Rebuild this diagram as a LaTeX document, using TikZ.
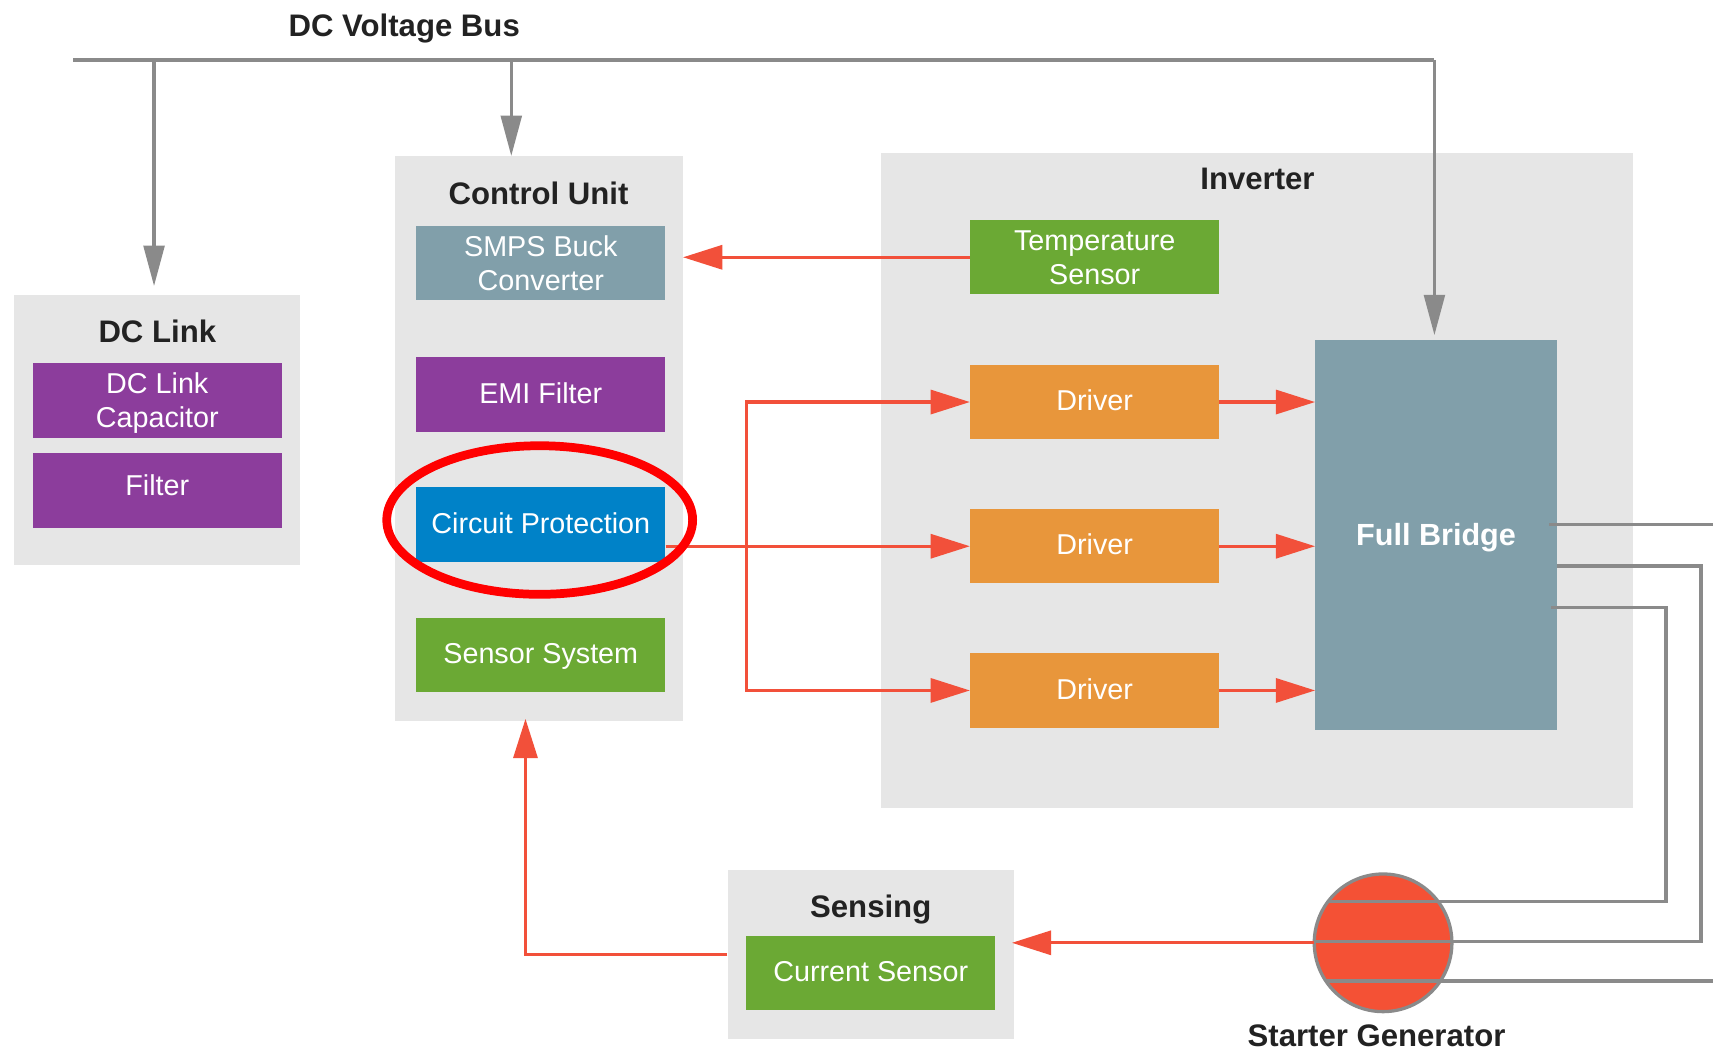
\documentclass[tikz,border=0pt]{standalone}
\usepackage{fontspec}
\setmainfont{Liberation Sans}
\usetikzlibrary{arrows.meta,calc}

\definecolor{grpbg}{HTML}{E6E6E6}
\definecolor{purp}{HTML}{8C3D9C}
\definecolor{slate}{HTML}{819FAA}
\definecolor{cpblue}{HTML}{0082C8}
\definecolor{leaf}{HTML}{6BA934}
\definecolor{amber}{HTML}{E8963B}
\definecolor{signal}{HTML}{F2503A}
\definecolor{wiregray}{HTML}{8A8A8A}
\definecolor{ink}{HTML}{222222}
\definecolor{rotor}{HTML}{F45135}

\begin{document}
\begin{tikzpicture}[x=1pt,y=-1pt,
  grp/.style={fill=grpbg, draw=none, inner sep=0pt},
  title/.style={font=\fontsize{28.5}{32}\selectfont\bfseries, text=ink, inner sep=0pt,
                text height=20.4pt, text depth=0pt},
  blk/.style={minimum width=228pt, minimum height=68pt, inner sep=0pt, text=white,
              align=center, font=\fontsize{26.3}{31}\selectfont, text height=18.8pt, text depth=3pt},
  twoline/.style={text height=49.8pt, text depth=0pt},
  sig/.style={draw=signal, line width=3pt},
  sigarrow/.style={sig, -{Triangle[length=36pt,width=22pt]}},
  wire/.style={draw=wiregray, line width=3pt},
  busarrow/.style={wire, -{Triangle[length=37pt,width=19pt]}},
]
\useasboundingbox (0,0) rectangle (1568,963);

% ---- group panels ----
\node[grp, minimum width=262pt, minimum height=247pt] (dclink) at (144,393.5) {};
\node[grp, minimum width=263pt, minimum height=517pt] (cu)     at (493.5,401.5) {};
\node[grp, minimum width=689pt, minimum height=600pt] (inv)    at (1150.5,440) {};
\node[grp, minimum width=262pt, minimum height=155pt] (sens)   at (797,873.5) {};

% ---- titles ----
\node[title] (tbus)  at (370,23)   {DC Voltage Bus};
\node[title] (tdcl)  at (144,303)  {DC Link};
\node[title] (tcu)   at (493,177)  {Control Unit};
\node[title] (tinv)  at (1151,163) {Inverter};
\node[title] (tsens) at (797,830)  {Sensing};
\node[title] (tsg)   at (1260,948) {Starter Generator};

% ---- blocks ----
\node[blk, twoline, fill=purp] (dccap) at (144,366.5) {DC Link\\Capacitor};
\node[blk, fill=purp, text depth=9pt] (filt) at (144,449) {Filter};
\node[blk, twoline, fill=slate] (smps) at (495,241) {SMPS Buck\\Converter};
\node[blk, fill=purp]   (emi)    at (495,361)   {EMI Filter};
\node[blk, fill=cpblue] (cp)     at (495,480)   {Circuit Protection};
\node[blk, fill=leaf]   (sensys) at (495,599.5) {Sensor System};
\node[blk, twoline, fill=leaf] (temp) at (1002,235.5) {Temperature\\Sensor};
\node[blk, fill=amber]  (drv1)   at (1002,368)  {Driver};
\node[blk, fill=amber]  (drv2)   at (1002,500)  {Driver};
\node[blk, fill=amber]  (drv3)   at (1002,632)  {Driver};
\node[blk, fill=leaf]   (cs)     at (797,890.5) {Current Sensor};
\node[blk, fill=slate, minimum width=221pt, minimum height=357pt,
      font=\fontsize{28}{32}\selectfont\bfseries, text height=20pt, text depth=0pt]
      (fb) at (1314.5,489.5) {Full Bridge};

% ---- DC voltage bus ----
\coordinate (busL) at (67,55);
\coordinate (busR) at (1313,55);
\coordinate (dropDC) at (141,55);
\coordinate (dropCU) at (468,55);
\draw[wire] (busL) -- (busR);
\draw[busarrow, shorten >=4pt] (busR) -- (busR |- fb.north);
\draw[busarrow, shorten >=8pt] (dropDC) -- (dropDC |- dclink.north);
\draw[busarrow] (dropCU) -- (dropCU |- cu.north);

% ---- control signals ----
\draw[sigarrow] (temp.west) -- (temp.west -| cu.east);
\coordinate (split) at (683,500);
\draw[sigarrow] (cp.east |- drv2.west) -- (drv2.west);
\draw[sigarrow] (split) |- (drv1.west);
\draw[sigarrow] (split) |- (drv3.west);
\draw[sigarrow] (drv1.east) -- (drv1.east -| fb.west);
\draw[sigarrow] (drv2.east) -- (drv2.east -| fb.west);
\draw[sigarrow] (drv3.east) -- (drv3.east -| fb.west);

% ---- starter generator ----
\node[circle, fill=rotor, minimum size=126pt, inner sep=0pt] (sg) at (1266,863) {};
\coordinate (fbA) at (1418,480);
\coordinate (fbB) at (1425,518);
\coordinate (fbC) at (1420,556);
\draw[wire] (fbA) -- (1568,480);
\draw[wire] (fbB) -- (1557,518) -- (1557,862) -- (1204,862);
\draw[wire] (fbC) -- (1525,556) -- (1525,825) -- (1216,825);
\draw[wire] (1214,898) -- (1568,898);
\draw[wiregray, line width=3pt] (sg.center) circle [radius=63pt];

% ---- current feedback ----
\draw[sigarrow, shorten >=-2pt] (sg.west) -- (sg.west -| sens.east);
\coordinate (cuin) at (481,660);
\draw[sigarrow, shorten >=-2pt] (sens.west) -| (cuin);

% ---- highlight ----
\draw[draw=red, line width=8pt] ($(cp.center)+(-1,-4)$) ellipse [x radius=140pt, y radius=68pt];
\end{tikzpicture}
\end{document}
